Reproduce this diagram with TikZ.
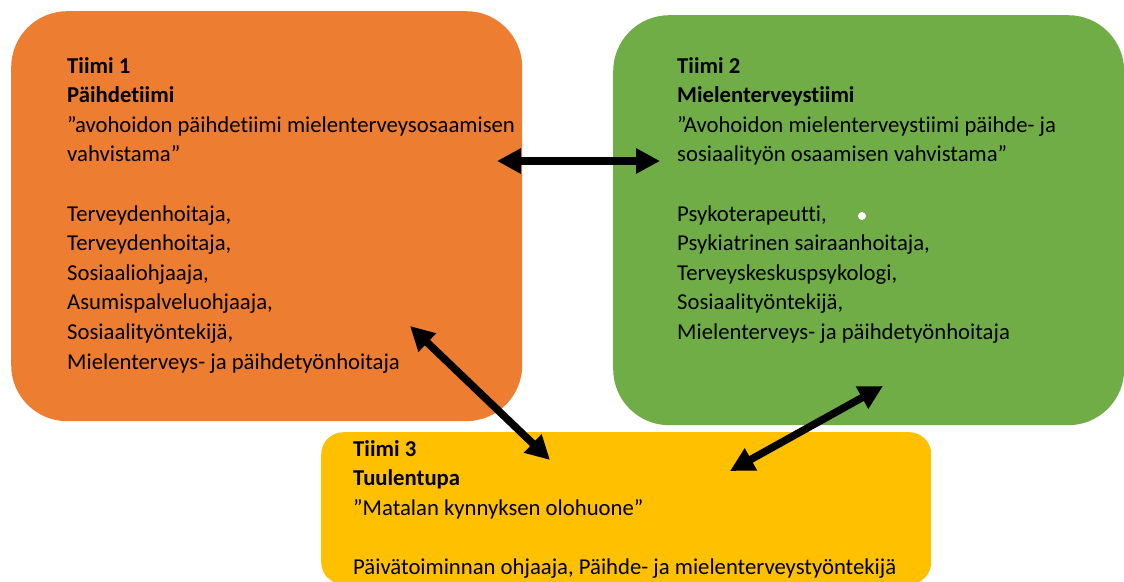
\documentclass[tikz,border=0pt]{standalone}
\usepackage{fontspec}
\setmainfont{Carlito}[Ligatures=CommonOff]
\usetikzlibrary{arrows.meta}
\definecolor{borange}{HTML}{ED7D31}
\definecolor{bgreen}{HTML}{70AD47}
\definecolor{byellow}{HTML}{FFC000}
\tikzset{
  teambox/.style={anchor=north west, inner sep=0pt, draw=none},
  teamtext/.style={anchor=north west, inner sep=0pt, align=left, text=black,
    font=\fontsize{22.7}{29.6}\selectfont},
  link/.style={line width=7.5pt, {Triangle[length=24pt,width=24pt]}-{Triangle[length=24pt,width=24pt]}},
}
\begin{document}
\begin{tikzpicture}[x=1pt,y=-1pt]
\useasboundingbox (0,0) rectangle (1124,581);
% boxes
\node[teambox, fill=borange, rounded corners=56pt, minimum width=511pt, minimum height=410pt] (b1) at (11,11) {};
\node[teambox, fill=bgreen, rounded corners=56pt, minimum width=511pt, minimum height=410pt] (b2) at (613,15) {};
\node[teambox, fill=byellow, rounded corners=22pt, minimum width=610pt, minimum height=152pt] (b3) at (321,432) {};
% texts
\node[teamtext] (t1) at (67,57) {\textbf{Tiimi 1}\\ \textbf{Päihdetiimi}\\ ”avohoidon päihdetiimi mielenterveysosaamisen\\ vahvistama”\\[29.6pt] Terveydenhoitaja,\\ Terveydenhoitaja,\\ Sosiaaliohjaaja,\\ Asumispalveluohjaaja,\\ Sosiaalityöntekijä,\\ Mielenterveys- ja päihdetyönhoitaja};
\node[teamtext] (t2) at (677,57) {\textbf{Tiimi 2}\\ \textbf{Mielenterveystiimi}\\ ”Avohoidon mielenterveystiimi päihde- ja\\ sosiaalityön osaamisen vahvistama”\\[29.6pt] Psykoterapeutti,\\ Psykiatrinen sairaanhoitaja,\\ Terveyskeskuspsykologi,\\ Sosiaalityöntekijä,\\ Mielenterveys- ja päihdetyönhoitaja};
\node[teamtext] (t3) at (353,440) {\textbf{Tiimi 3}\\ \textbf{Tuulentupa}\\ ”Matalan kynnyksen olohuone”\\[29.6pt] Päivätoiminnan ohjaaja, Päihde- ja mielenterveystyöntekijä};
% white dot
\fill[white] (862,216) circle (4pt);
% arrow ends
\coordinate (a1) at (497,161);
\coordinate (a2) at (660,161);
\coordinate (c1) at (410,326);
\coordinate (c2) at (550,460);
\coordinate (d1) at (883,386);
\coordinate (d2) at (730,471);
\draw[link] (a1) -- (a2);
\draw[link] (c1) -- (c2);
\draw[link] (d1) -- (d2);
\end{tikzpicture}
\end{document}
